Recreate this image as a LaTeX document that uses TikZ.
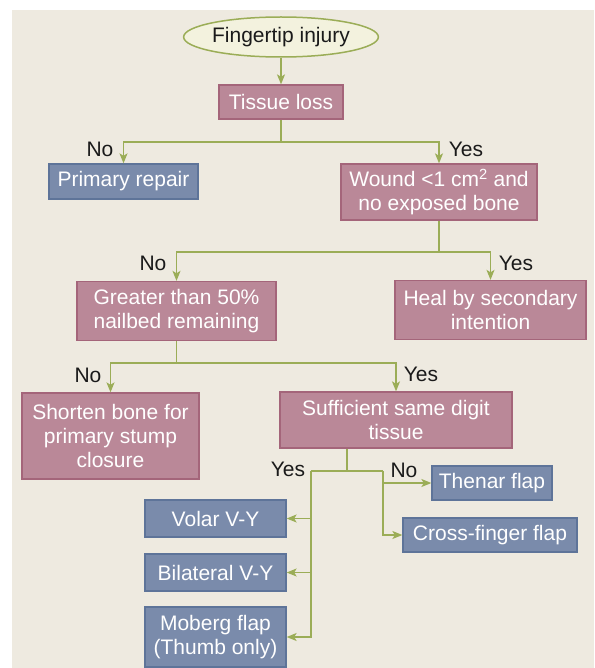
\documentclass[tikz,border=0pt]{standalone}
\usepackage{fontspec}
\setmainfont{Liberation Sans}
\usepackage{tikz}
\usepackage{xcolor}
\usetikzlibrary{arrows.meta,positioning,shapes,calc}
\definecolor{panel}{HTML}{EEEAE0}
\definecolor{ink}{HTML}{1A1A1A}
\definecolor{rosefill}{HTML}{BA8898}
\definecolor{roseline}{HTML}{A4657A}
\definecolor{bluefill}{HTML}{7A8BAB}
\definecolor{blueline}{HTML}{5E7499}
\definecolor{leafgreen}{HTML}{9BAD57}
\definecolor{ovalfill}{HTML}{F3F2DE}
\tikzset{
  startoval/.style={
    draw=leafgreen, fill=ovalfill, line width=1.5pt, ellipse,
    inner sep=0pt, text=ink, font=\fontsize{21}{24}\selectfont
  },
  rosecard/.style={
    draw=roseline, fill=rosefill, line width=1.3pt,
    align=center, inner sep=0pt, text=white,
    font=\fontsize{21}{24}\selectfont
  },
  bluecard/.style={
    draw=blueline, fill=bluefill, line width=1.3pt,
    align=center, inner sep=0pt, text=white,
    font=\fontsize{21}{24}\selectfont
  },
  flowline/.style={draw=leafgreen, line width=1.4pt},
  flowarrow/.style={flowline, -{Stealth[length=10pt,width=8pt,inset=2.5pt]}},
  answer/.style={text=ink, inner sep=0pt, font=\fontsize{21}{24}\selectfont}
}
\begin{document}
\begin{tikzpicture}[x=1pt,y=-1pt]
  \useasboundingbox (0,0) rectangle (594,668);
  \fill[panel] (12,10) rectangle (594,668);

  % boxes
  \node[startoval,minimum width=184pt,minimum height=40pt] (injury) at (281,37) {Fingertip injury};
  \node[rosecard,minimum width=124pt,minimum height=34pt] (loss) at (281,102) {Tissue loss};
  \node[bluecard,minimum width=149pt,minimum height=35pt] (primary) at (123.5,181.5) {Primary repair};
  \node[rosecard,minimum width=196pt,minimum height=56pt] (wound) at (439,192) {Wound <1 cm\textsuperscript{2} and\\no exposed bone};
  \node[rosecard,minimum width=199pt,minimum height=59pt] (nailbed) at (176.5,311) {Greater than 50\%\\nailbed remaining};
  \node[rosecard,minimum width=191pt,minimum height=59pt] (heal) at (490.5,310) {Heal by secondary\\intention};
  \node[rosecard,minimum width=177pt,minimum height=86pt] (shorten) at (110.5,436) {Shorten bone for\\primary stump\\closure};
  \node[rosecard,minimum width=232pt,minimum height=56pt] (sametissue) at (396,420) {Sufficient same digit\\tissue};
  \node[bluecard,minimum width=120pt,minimum height=34pt] (thenar) at (492,483) {Thenar flap};
  \node[bluecard,minimum width=174pt,minimum height=34pt] (crossfinger) at (490,535) {Cross-finger flap};
  \node[bluecard,minimum width=141pt,minimum height=37pt] (volar) at (215.5,518.5) {Volar V-Y};
  \node[bluecard,minimum width=141pt,minimum height=37pt] (bilateral) at (215.5,572.5) {Bilateral V-Y};
  \node[bluecard,minimum width=141pt,minimum height=60pt] (moberg) at (215.5,637) {Moberg flap\\(Thumb only)};

  % branch points
  \coordinate (fork1) at (281,142);
  \coordinate (fork2) at (439,252);
  \coordinate (fork3) at (176.5,363);
  \coordinate (fork4) at (347,471);
  \coordinate (yesrail) at (311,471);
  \coordinate (norail) at (383,471);

  % connectors
  \draw[flowarrow] (injury) -- (loss);
  \draw[flowline] (loss) -- (fork1);
  \draw[flowarrow] (fork1) -| (primary);
  \draw[flowarrow] (fork1) -| (wound);
  \draw[flowline] (wound) -- (fork2);
  \draw[flowarrow] (fork2) -| (nailbed);
  \draw[flowarrow] (fork2) -| (heal);
  \draw[flowline] (nailbed) -- (fork3);
  \draw[flowarrow] (fork3) -| (shorten);
  \draw[flowarrow] (fork3) -| (sametissue);
  \draw[flowline] (sametissue.south -| fork4) -- (fork4);
  \draw[flowline] (yesrail) -- (norail);
  \draw[flowarrow] (yesrail) |- (volar);
  \draw[flowarrow] (yesrail) |- (bilateral);
  \draw[flowarrow] (yesrail) |- (moberg);
  \draw[flowarrow] (norail) |- (thenar);
  \draw[flowarrow] (norail) |- (crossfinger);

  % answers
  \node[answer] (no1) at (100,149) {No};
  \node[answer] (yes1) at (466,149) {Yes};
  \node[answer] (no2) at (153,263) {No};
  \node[answer] (yes2) at (516,263) {Yes};
  \node[answer] (no3) at (88,375) {No};
  \node[answer] (yes3) at (421,374) {Yes};
  \node[answer] (yes4) at (288,469) {Yes};
  \node[answer] (no4) at (404,470) {No};
\end{tikzpicture}
\end{document}
